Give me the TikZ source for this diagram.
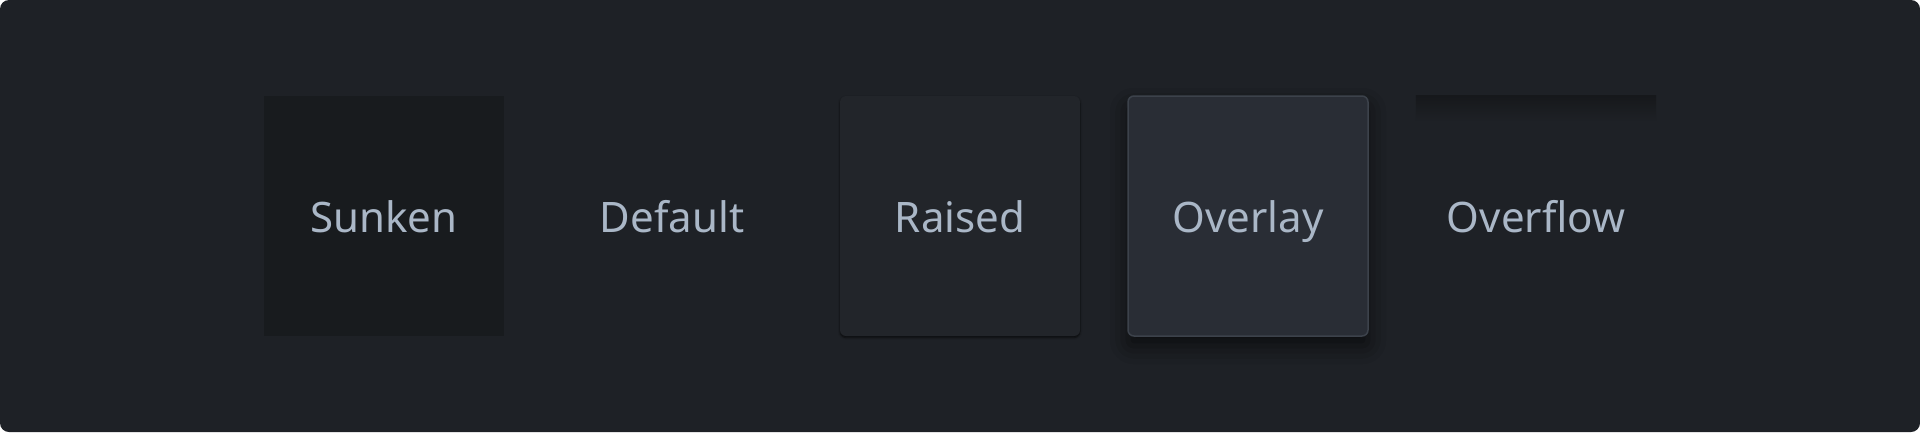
\documentclass[tikz,border=0pt]{standalone}
\usepackage{fontspec}
\setmainfont{Noto Sans}
\usetikzlibrary{shadows.blur}
\definecolor{canvasbg}{HTML}{1E2126}
\definecolor{sunkenbg}{HTML}{181B1E}
\definecolor{raisedbg}{HTML}{22252A}
\definecolor{overlaybg}{HTML}{292D35}
\definecolor{overlayline}{HTML}{3C424B}
\definecolor{edgedark}{HTML}{16181B}
\definecolor{labelfg}{HTML}{AAB7C7}
\tikzstyle{surface} = [rectangle, minimum size=240pt, inner sep=0pt, text=labelfg, text height=36pt, text depth=4pt, font=\fontsize{42}{50}\selectfont]
\tikzstyle{sunken} = [surface, fill=sunkenbg]
\tikzstyle{raised} = [surface, fill=raisedbg, rounded corners=6pt, blur shadow={shadow xshift=0pt, shadow yshift=-1.5pt, shadow blur radius=2pt, shadow opacity=70}]
\tikzstyle{overlay} = [surface, fill=overlaybg, draw=overlayline, line width=1.5pt, rounded corners=6pt, blur shadow={shadow xshift=0pt, shadow yshift=-10pt, shadow blur radius=18pt, shadow opacity=60}]

\begin{document}
\begin{tikzpicture}[x=1pt,y=-1pt,node distance=288pt]
  \useasboundingbox (0,0) rectangle (1920,432);
  \fill[white] (0,0) rectangle (1920,432);
  \fill[canvasbg,rounded corners=9pt] (0,0) rectangle (1920,432);

  \node[sunken] (Sunken) at (384,216) {Sunken};
  \node[surface] (Default) [right of=Sunken] {Default};
  \node[raised] (Raised) [right of=Default] {Raised};
  \node[overlay] (Overlay) [right of=Raised] {Overlay};
  \node[surface] (Overflow) [right of=Overlay] {Overflow};

  % inner shadow along the top of the overflow area
  \shade[top color=edgedark, bottom color=canvasbg] (Overflow.north west) rectangle ([yshift=-26pt]Overflow.north east);
\end{tikzpicture}
\end{document}
